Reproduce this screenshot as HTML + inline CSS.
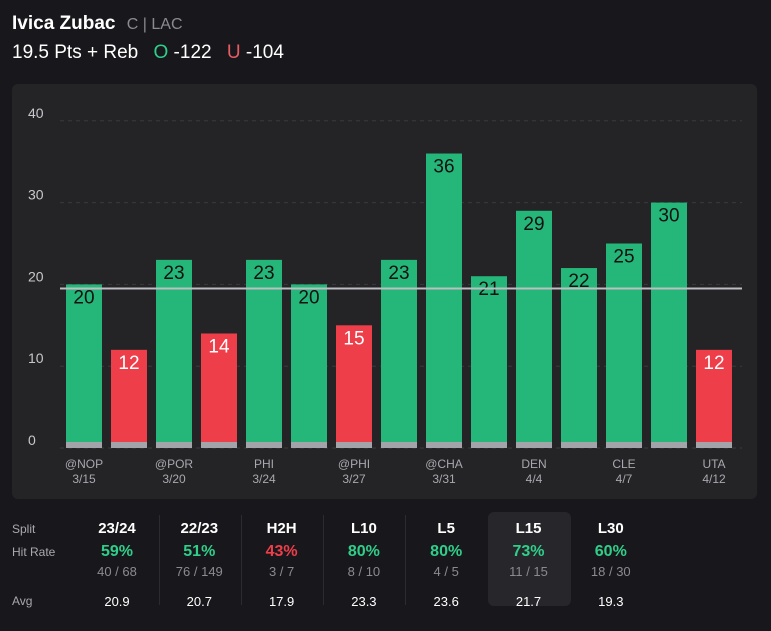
<!DOCTYPE html>
<html><head><meta charset="utf-8"><style>
body{margin:0;width:771px;height:631px;background:#18181c;font-family:"Liberation Sans",sans-serif;color:#fff;position:relative;overflow:hidden}
.abs{position:absolute}
.t{position:absolute;text-align:center;width:80px;margin-left:-40px}
</style></head><body>
<div class="abs" style="left:12px;top:13px;font-size:19px;font-weight:bold">Ivica Zubac <span style="font-weight:normal;color:#8a8a90;font-size:16px;margin-left:6px">C | LAC</span></div>
<div class="abs" style="left:12px;top:42px;font-size:19px">19.5 Pts + Reb <span style="color:#2fcf8a;margin-left:10px">O</span> -122 <span style="color:#e85a64;margin-left:10px">U</span> -104</div>
<div class="abs" style="left:12px;top:84px;width:745px;height:415px;background:#242427;border-radius:6px"></div>
<svg class="abs" style="left:0;top:0" width="771" height="500" id="chart"></svg>
<div class="abs" style="left:488px;top:512px;width:83px;height:94px;background:#27272b;border-radius:6px"></div>
<div id="table"></div>
<script>
const categories=["@NOP","","@POR","","PHI","","@PHI","","@CHA","","DEN","","CLE","","UTA"];
const dates=["3/15","","3/20","","3/24","","3/27","","3/31","","4/4","","4/7","","4/12"];
const values=[20,12,23,14,23,20,15,23,36,21,29,22,25,30,12];
const line=19.5;
const ticks=[0,10,20,30,40];
const NS="http://www.w3.org/2000/svg";
const svg=document.getElementById('chart');
const y=v=>448-v*8.18, x=i=>66+i*45;
function el(t,a,txt){const e=document.createElementNS(NS,t);for(const k in a)e.setAttribute(k,a[k]);if(txt!=null)e.textContent=txt;svg.appendChild(e);return e;}
ticks.forEach(t=>{
 const g=el('line',{x1:60,x2:742,y1:y(t),y2:y(t),stroke:'#3a3a3e','stroke-dasharray':'4,4'});
 
 
 const l=el('text',{x:28,y:y(t)-3,fill:'#c8c8cc','font-size':14,'font-family':'Liberation Sans'},t);
 
 
});
values.forEach((v,i)=>{
 const over=v>line, c=over?'#25b77a':'#ee3e4a';
 const b=el('rect',{x:x(i),y:y(v),width:36,height:448-y(v),fill:c});
 
 
 el('rect',{x:x(i),y:442,width:36,height:6,fill:'#a3a3aa'});
 const t=el('text',{x:x(i)+18,y:y(v)+19,'text-anchor':'middle',fill:over?'#111':'#fff','font-size':19,'font-family':'Liberation Sans'},v);
 
 
 if(categories[i]){
  const a=el('text',{x:x(i)+18,y:468,'text-anchor':'middle',fill:'#a8a8ae','font-size':12,'font-family':'Liberation Sans'},categories[i]);
  
  
  const d=el('text',{x:x(i)+18,y:483,'text-anchor':'middle',fill:'#a8a8ae','font-size':12,'font-family':'Liberation Sans'},dates[i]);
  
  
 }
});
const ln=el('line',{x1:60,x2:742,y1:y(line),y2:y(line),stroke:'#bdbdc2','stroke-width':2});



const splits=["23/24","22/23","H2H","L10","L5","L15","L30"];
const rates=["59%","51%","43%","80%","80%","73%","60%"];
const fracs=["40 / 68","76 / 149","3 / 7","8 / 10","4 / 5","11 / 15","18 / 30"];
const avgs=["20.9","20.7","17.9","23.3","23.6","21.7","19.3"];
let h='';
h+='<div class="abs" style="left:12px;top:522px;font-size:12px;color:#a8a8ae">Split</div>';
h+='<div class="abs" style="left:12px;top:545px;font-size:12px;color:#a8a8ae">Hit Rate</div>';
h+='<div class="abs" style="left:12px;top:594px;font-size:12px;color:#a8a8ae">Avg</div>';
splits.forEach((s,i)=>{
 const cx=117+i*82.3;
 const red=parseInt(rates[i])<50;
 h+=`<div class="t" style="left:${cx}px;top:520px;font-size:15px;font-weight:bold">${s}</div>`;
 h+=`<div class="t" style="left:${cx}px;top:543px;font-size:16px;font-weight:bold;color:${red?'#ee3e4a':'#2fcf8a'}">${rates[i]}</div>`;
 h+=`<div class="t" style="left:${cx}px;top:564px;font-size:13px;color:#8a8a90">${fracs[i]}</div>`;
 h+=`<div class="t" style="left:${cx}px;top:594px;font-size:13px">${avgs[i]}</div>`;
 if(i<4)h+=`<div class="abs" style="left:${cx+41.5}px;top:515px;width:1px;height:90px;background:#2c2c30"></div>`;
});
document.getElementById('table').innerHTML=h;
</script>
</body></html>
